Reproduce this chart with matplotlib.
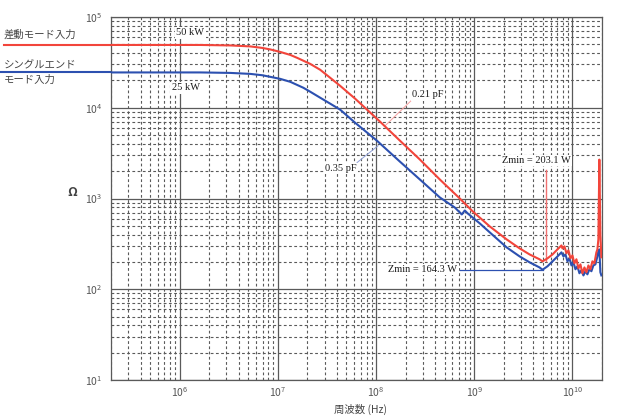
import matplotlib
matplotlib.use("Agg")
import matplotlib.pyplot as plt
import matplotlib.transforms as mtransforms
from matplotlib.ticker import LogLocator, NullFormatter

# ---- data ----
red_freq = [2.0e5, 1.63e6, 3.30e6, 5.26e6, 6.97e6, 8.39e6, 1.06e7, 1.34e7, 1.58e7,
            2.14e7, 2.70e7, 3.41e7, 4.32e7, 6.12e7, 1.10e8, 1.75e8, 2.80e8, 4.47e8,
            7.13e8, 9.66e8, 1.44e9, 2.14e9, 2.90e9, 3.66e9, 4.62e9, 4.96e9, 5.57e9,
            6.27e9, 7.04e9, 7.73e9, 7.91e9, 8.29e9, 8.69e9, 9.11e9, 9.55e9, 1.00e10,
            1.048e10, 1.098e10, 1.151e10, 1.206e10, 1.264e10, 1.325e10, 1.387e10,
            1.454e10, 1.524e10, 1.597e10, 1.673e10, 1.753e10, 1.795e10, 1.837e10,
            1.880e10, 1.925e10, 1.970e10]
red_z = [49200, 49200, 48600, 47400, 45600, 43900, 41200, 38200, 35400,
         30400, 26200, 21400, 17400, 12600, 7020, 4340, 2683, 1617,
         1000, 720, 492, 354, 282, 242, 214, 203, 219,
         242, 275, 304, 282, 297, 249, 268, 219, 236,
         193, 214, 170, 188, 150, 174, 154,
         183, 166, 203, 193, 255, 275, 354,
         2683, 402, 225]

blue_freq = [2.0e5, 1.63e6, 3.30e6, 5.26e6, 6.97e6, 8.39e6, 1.06e7, 1.34e7, 1.82e7,
             2.14e7, 2.70e7, 3.41e7, 4.32e7, 6.12e7, 1.02e8, 1.75e8, 2.80e8, 4.47e8,
             6.34e8, 7.13e8, 7.47e8, 8.01e8, 8.59e8, 1.14e9, 1.44e9, 2.14e9, 2.90e9,
             3.66e9, 4.62e9, 4.96e9, 5.57e9, 6.27e9, 7.04e9, 7.73e9, 8.10e9, 8.49e9,
             8.90e9, 9.33e9, 9.77e9, 1.024e10, 1.073e10, 1.124e10, 1.178e10, 1.234e10,
             1.294e10, 1.356e10, 1.420e10, 1.488e10, 1.560e10, 1.634e10, 1.713e10,
             1.795e10, 1.837e10, 1.880e10, 1.925e10, 1.970e10]
blue_z = [24500, 24500, 24200, 23600, 22800, 21900, 20800, 19300, 16600,
          15000, 12900, 11100, 9510, 6840, 4340, 2550, 1617, 1026,
          796, 702, 667, 738, 684, 531, 423, 289, 230,
          198, 174, 164, 179, 203, 230, 255, 230, 242,
          203, 219, 183, 198, 166, 179, 150, 162,
          142, 158, 146, 166, 158, 183, 188,
          230, 262, 275, 154, 142]

series_labels = ["差動モード入力", "シングルエンド", "モード入力"]
x_label = "周波数 (Hz)"
y_label = "Ω"
x_limits = (2.0e5, 2.0e10)
y_limits = (10, 1e5)

RED = "#f2453b"
BLUE = "#2c50b0"
GRID = "#5a5a5a"

plt.rcParams['font.family'] = ['Noto Sans CJK JP', 'DejaVu Sans']

fig = plt.figure(figsize=(6.2, 4.16), dpi=100)
ax = fig.add_axes([111/620, 1-380/416, (602-111)/620, (380-17)/416])
ax.set_xscale('log')
ax.set_yscale('log')
ax.set_xlim(*x_limits)
ax.set_ylim(*y_limits)

ax.xaxis.set_major_locator(LogLocator(base=10, numticks=20))
ax.yaxis.set_major_locator(LogLocator(base=10, numticks=20))
ax.xaxis.set_minor_locator(LogLocator(base=10, subs=range(2, 10), numticks=40))
ax.yaxis.set_minor_locator(LogLocator(base=10, subs=range(2, 10), numticks=40))
ax.xaxis.set_minor_formatter(NullFormatter())
ax.yaxis.set_minor_formatter(NullFormatter())

ax.grid(True, which='major', color=GRID, lw=0.9, ls='-')
ax.grid(True, which='minor', color=GRID, lw=0.8, ls=(0, (2.5, 2.2)))
ax.set_axisbelow(True)
for s in ax.spines.values():
    s.set_color(GRID)
    s.set_linewidth(0.9)
ax.tick_params(which='both', length=0, labelsize=7.5, labelcolor='#555555')
ax.tick_params(axis='x', pad=4)
ax.tick_params(axis='y', pad=6)

ax.plot(red_freq, red_z, color=RED, lw=1.5, zorder=5)
ax.plot(blue_freq, blue_z, color=BLUE, lw=1.5, zorder=4)

# leader lines to the left labels
bt = mtransforms.blended_transform_factory(fig.transFigure, ax.transData)
ax.plot([4/620, 111/620], [red_z[0], red_z[0]], color=RED, lw=1.5, transform=bt, clip_on=False)
ax.plot([0, 111/620], [blue_z[0], blue_z[0]], color=BLUE, lw=1.5, transform=bt, clip_on=False)
fig.text(4/620, 1-35/416, series_labels[0], fontsize=7.5, color='#444444', va='center', ha='left')
fig.text(4/620, 1-65/416, series_labels[1], fontsize=7.5, color='#444444', va='center', ha='left')
fig.text(4/620, 1-80/416, series_labels[2], fontsize=7.5, color='#444444', va='center', ha='left')

fig.text(72/620, 1-193/416, y_label, fontsize=9, color='#444444', va='center', ha='center', fontweight='bold')
fig.text(360/620, 1-409/416, x_label, fontsize=7.5, color='#444444', va='center', ha='center')

# annotations (serif, as in the original)
box = dict(boxstyle='square,pad=0.12', fc='white', ec='none')
serif = dict(family='Liberation Serif', fontsize=7.5, color='#1a1a1a', ha='center', va='center',
             bbox=box, zorder=6)
ax.text(1.29e6, 66700, "50 kW", **serif)
ax.text(1.15e6, 16600, "25 kW", **serif)
ax.text(3.37e8, 13900, "0.21 pF", **serif)
ax.plot([2.32e8, 1.23e8], [12200, 6300], color='#f7a0a0', lw=0.7, zorder=3)
ax.text(4.42e7, 2140, "0.35 pF", **serif)
ax.plot([6.41e7, 1.05e8], [2490, 3820], color='#8fa0d8', lw=0.7, zorder=3)
ax.text(4.32e9, 2620, "Zmin = 203.1 W", **serif)
ax.plot([5.32e9, 5.32e9], [2080, 203], color='#f07070', lw=1.0, zorder=3)
ax.text(3.0e8, 166, "Zmin = 164.3 W", **serif)
ax.plot([7.13e8, 4.96e9], [164, 164], color=BLUE, lw=0.9, zorder=3)

fig.savefig("out.png", dpi=100)
